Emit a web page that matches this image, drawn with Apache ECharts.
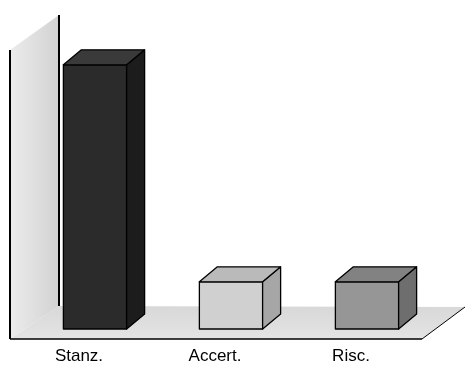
<!DOCTYPE html>
<html>
<head>
<meta charset="utf-8">
<script src="https://cdn.jsdelivr.net/npm/echarts@6/dist/echarts.min.js"></script>
<style>
  html, body { margin: 0; padding: 0; background: #fff; }
  #chart { width: 465px; height: 365px; }
</style>
</head>
<body>
<div id="chart"></div>
<script>
// Category names and bar heights
const categories = ['Stanz.', 'Accert.', 'Risc.'];
const values = [56, 10, 10];

// Shading per bar: front, side, top
const faceColors = [
  ['#2b2b2b', '#1c1c1c', '#3a3a3a'],
  ['#d0d0d0', '#a6a6a6', '#bababa'],
  ['#969696', '#6e6e6e', '#828282']
];

const DEPTH_BAR = [18, -15];
const DEPTH_ROOM = [49, -33];
const BAR_SHIFT = 16;   // bars stand a little behind the front edge of the floor

const chart = echarts.init(document.getElementById('chart'), null, { renderer: 'canvas' });

function renderRoom(params, api) {
  const cs = params.coordSys;
  const base = cs.y + cs.height;
  const fx = cs.x - 1;            // front-left corner of the room
  const fy = base + 10;           // floor front edge
  const bx = fx + DEPTH_ROOM[0];
  const by = fy + DEPTH_ROOM[1];
  const rx = cs.x + cs.width + 3;
  const wallTopFront = cs.y + 4;
  const wallTopBack = wallTopFront + DEPTH_ROOM[1] - 2;
  return {
    type: 'group',
    children: [
      {
        type: 'polygon',
        shape: { points: [[fx, fy], [rx, fy], [rx + DEPTH_ROOM[0] - 6, by + 1], [bx, by]] },
        style: {
          fill: new echarts.graphic.LinearGradient(0, 1, 0, 0, [
            { offset: 0, color: '#e4e4e4' },
            { offset: 1, color: '#d8d8d8' }
          ])
        }
      },
      {
        type: 'polygon',
        shape: { points: [[fx, wallTopFront], [bx, wallTopBack], [bx, by], [fx, fy]] },
        style: {
          fill: new echarts.graphic.LinearGradient(0, 0, 1, 0, [
            { offset: 0, color: '#ececec' },
            { offset: 1, color: '#d2d2d2' }
          ])
        }
      },
      { type: 'line', shape: { x1: fx, y1: wallTopFront, x2: fx, y2: fy }, style: { stroke: '#000', lineWidth: 2 } },
      { type: 'line', shape: { x1: bx, y1: wallTopBack, x2: bx, y2: by }, style: { stroke: '#000', lineWidth: 2 } },
      { type: 'line', shape: { x1: fx, y1: fy, x2: rx, y2: fy }, style: { stroke: '#000', lineWidth: 1.5 } },
      { type: 'line', shape: { x1: rx, y1: fy, x2: rx + DEPTH_ROOM[0] - 6, y2: by + 1 }, style: { stroke: '#000', lineWidth: 1 } }
    ]
  };
}

function renderBar(params, api) {
  const idx = api.value(0);
  const top = api.coord([idx, api.value(1)]);
  const base = api.coord([idx, 0]);
  const w = api.size([1, 0])[0] * 0.465;
  const cx = top[0] + BAR_SHIFT;
  const x0 = cx - w / 2, x1 = cx + w / 2;
  const [dx, dy] = DEPTH_BAR;
  const c = faceColors[idx];
  const edge = { stroke: '#000', lineWidth: 1.3, lineJoin: 'round' };
  return {
    type: 'group',
    children: [
      { type: 'polygon', shape: { points: [[x0, top[1]], [x1, top[1]], [x1, base[1]], [x0, base[1]]] }, style: Object.assign({ fill: c[0] }, edge) },
      { type: 'polygon', shape: { points: [[x1, top[1]], [x1 + dx, top[1] + dy], [x1 + dx, base[1] + dy], [x1, base[1]]] }, style: Object.assign({ fill: c[1] }, edge) },
      { type: 'polygon', shape: { points: [[x0, top[1]], [x0 + dx, top[1] + dy], [x1 + dx, top[1] + dy], [x1, top[1]]] }, style: Object.assign({ fill: c[2] }, edge) }
    ]
  };
}

chart.setOption({
  animation: false,
  backgroundColor: '#fff',
  grid: { left: 11, right: 46, top: 46, bottom: 36, containLabel: false },
  xAxis: {
    type: 'category',
    data: categories,
    axisLine: { show: false },
    axisTick: { show: false },
    axisLabel: { margin: 19, color: '#000', fontSize: 17, fontFamily: 'Liberation Sans, Arial, sans-serif' }
  },
  yAxis: { type: 'value', min: 0, max: 60, show: false },
  series: [
    { type: 'custom', renderItem: renderRoom, data: [[0, 0]], z: 1, silent: true },
    {
      type: 'custom',
      renderItem: renderBar,
      data: values.map((v, i) => [i, v]),
      encode: { x: 0, y: 1 },
      z: 2
    }
  ]
});
</script>
</body>
</html>
